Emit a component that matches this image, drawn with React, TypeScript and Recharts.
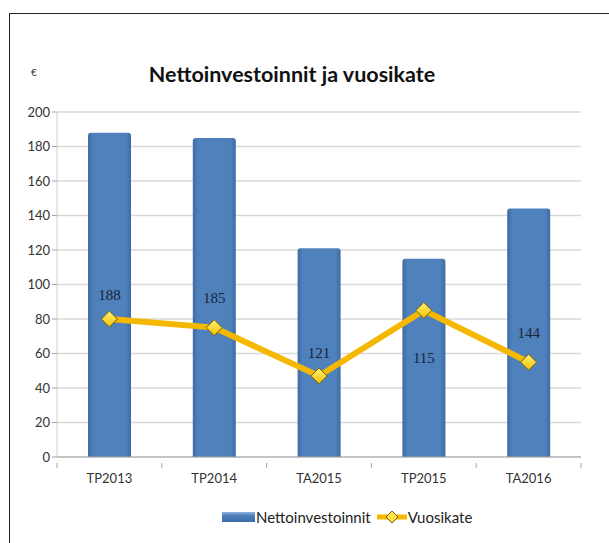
import { ComposedChart, Bar, Line, XAxis, YAxis, CartesianGrid, LabelList } from 'recharts'

const categories = ['TP2013', 'TP2014', 'TA2015', 'TP2015', 'TA2016']
const nettoinvestoinnit = [188, 185, 121, 115, 144]
const vuosikate = [80, 75, 47, 85, 55]
const yTicks = [0, 20, 40, 60, 80, 100, 120, 140, 160, 180, 200]

const data = categories.map((name, i) => ({
  name,
  netto: nettoinvestoinnit[i],
  vuosikate: vuosikate[i],
}))

const FONT = 'Lato, "Open Sans", sans-serif'

const CHART_W = 609
const CHART_H = 543
const MARGIN = { top: 112, right: 28, left: 0, bottom: 56 }
const Y_AXIS_W = 57
const BAND = (CHART_W - MARGIN.left - MARGIN.right - Y_AXIS_W) / categories.length

// category label plus Excel-style tick marks on the category boundaries
const CategoryTick = (props: any) => {
  const { x, y, payload, index } = props
  const top = y - 10
  return (
    <g>
      <line x1={x - BAND / 2} y1={top} x2={x - BAND / 2} y2={top + 5} stroke="#a6a6a6" />
      {index === categories.length - 1 && (
        <line x1={x + BAND / 2} y1={top} x2={x + BAND / 2} y2={top + 5} stroke="#a6a6a6" />
      )}
      <text x={x} y={y} dy={10} textAnchor="middle" fontSize={13} fill="#333" fontFamily={FONT}>
        {payload.value}
      </text>
    </g>
  )
}

// diamond marker like the Excel one
const Diamond = (props: any) => {
  const { cx, cy } = props
  if (cx == null || cy == null) return null
  const r = 8
  return (
    <polygon
      points={`${cx},${cy - r} ${cx + r},${cy} ${cx},${cy + r} ${cx - r},${cy}`}
      fill="url(#diamondFill)"
      stroke="#7a5c00"
      strokeWidth={1}
    />
  )
}

const LegendIcons = () => (
  <div
    style={{
      position: 'absolute',
      top: 508,
      left: 222,
      display: 'flex',
      alignItems: 'center',
      fontFamily: FONT,
      fontSize: 15,
      color: '#222',
    }}
  >
    <svg width={33} height={12}>
      <defs>
        <linearGradient id="legBar" x1="0" y1="0" x2="0" y2="1">
          <stop offset="0" stopColor="#8fb4e3" />
          <stop offset="0.35" stopColor="#4f81bd" />
          <stop offset="1" stopColor="#3d6ca5" />
        </linearGradient>
      </defs>
      <rect x={0} y={1} width={33} height={10} fill="url(#legBar)" />
    </svg>
    <span style={{ marginLeft: 1 }}>Nettoinvestoinnit</span>
    <svg width={30} height={14} style={{ marginLeft: 6 }}>
      <line x1={0} y1={7} x2={30} y2={7} stroke="#f5b800" strokeWidth={5} />
      <polygon points="15,1 21,7 15,13 9,7" fill="#ffe14d" stroke="#7a5c00" strokeWidth={1} />
    </svg>
    <span style={{ marginLeft: 1 }}>Vuosikate</span>
  </div>
)

export default function App() {
  return (
    <div
      style={{
        position: 'absolute',
        left: 0,
        top: 0,
        width: CHART_W,
        height: CHART_H,
        overflow: 'hidden',
        background: '#fff',
      }}
    >
      <div
        style={{
          position: 'absolute',
          left: 9,
          top: 13,
          width: 640,
          height: 600,
          borderTop: '1.5px solid #222',
          borderLeft: '1.5px solid #222',
        }}
      />
      <div
        style={{
          position: 'absolute',
          left: 0,
          top: 61,
          width: 584,
          textAlign: 'center',
          fontFamily: FONT,
          fontWeight: 700,
          fontSize: 21.5,
          color: '#111',
        }}
      >
        Nettoinvestoinnit ja vuosikate
      </div>
      <div
        style={{
          position: 'absolute',
          left: 31,
          top: 66,
          fontFamily: FONT,
          fontSize: 10,
          color: '#333',
        }}
      >
        €
      </div>
      <div style={{ position: 'absolute', left: 0, top: 0 }}>
        <ComposedChart
          width={CHART_W}
          height={CHART_H}
          data={data}
          margin={MARGIN}
          barCategoryGap="30%"
        >
          <defs>
            <linearGradient id="barFill" x1="0" y1="0" x2="1" y2="0">
              <stop offset="0" stopColor="#3e6ba3" />
              <stop offset="0.12" stopColor="#4f81bd" />
              <stop offset="0.88" stopColor="#4f81bd" />
              <stop offset="1" stopColor="#3e6ba3" />
            </linearGradient>
            <linearGradient id="diamondFill" x1="0" y1="0" x2="0" y2="1">
              <stop offset="0" stopColor="#fff27a" />
              <stop offset="1" stopColor="#f2c200" />
            </linearGradient>
          </defs>
          <CartesianGrid vertical={false} stroke="#d9d9d9" strokeWidth={1.5} />
          <XAxis
            dataKey="name"
            axisLine={{ stroke: '#a6a6a6' }}
            tickLine={false}
            tick={<CategoryTick />}
            tickMargin={10}
            height={30}
            interval={0}
          />
          <YAxis
            domain={[0, 200]}
            ticks={yTicks}
            width={Y_AXIS_W}
            axisLine={{ stroke: '#d0d0d0' }}
            tickLine={{ stroke: '#a6a6a6' }}
            tickSize={5}
            tick={{ fontSize: 13, fill: '#333', fontFamily: FONT }}
            interval={0}
          />
          <Bar dataKey="netto" fill="url(#barFill)" barSize={43} radius={[3, 3, 0, 0]} isAnimationActive={false}>
            <LabelList
              dataKey="netto"
              position="center"
              fill="#1b2536"
              fontSize={15}
              fontFamily='"Liberation Serif", serif'
            />
          </Bar>
          <Line
            dataKey="vuosikate"
            stroke="#f5b800"
            strokeWidth={6}
            dot={<Diamond />}
            activeDot={false}
            isAnimationActive={false}
          />
        </ComposedChart>
      </div>
      <LegendIcons />
    </div>
  )
}
